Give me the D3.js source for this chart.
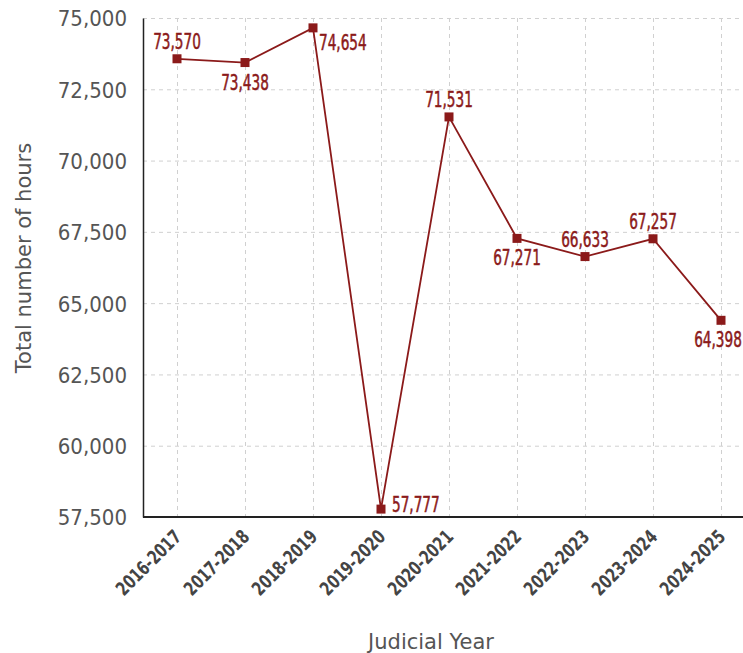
<!DOCTYPE html>
<html>
<head>
<meta charset="utf-8">
<script src="https://cdn.jsdelivr.net/npm/d3@7"></script>
<style>
  html, body { margin: 0; padding: 0; background: #fff; }
  svg { display: block; }
</style>
</head>
<body>
<svg id="chart" width="743" height="653"></svg>
<script>
// Judicial years and total hours per year
const years = ["2016-2017", "2017-2018", "2018-2019", "2019-2020", "2020-2021",
               "2021-2022", "2022-2023", "2023-2024", "2024-2025"];
const hours = [73570, 73438, 74654, 57777, 71531, 67271, 66633, 67257, 64398];
const yTicks = [57500, 60000, 62500, 65000, 67500, 70000, 72500, 75000];

// Where each value label sits relative to its marker
const labelSide = ["above", "below", "rightBelow", "right", "above", "below", "above", "above", "belowEdge"];

const W = 743, H = 653;
const m = { left: 143, top: 18, bottom: 517, right: 755 };
const red = "#8b1a1a";
const condensed = "'DejaVu Sans Condensed', 'DejaVu Sans', sans-serif";

const svg = d3.select("#chart");

const x = d3.scalePoint().domain(years).range([m.left, m.right]).padding(0.5);
const y = d3.scaleLinear().domain([57500, 75000]).range([m.bottom, m.top]);
const fmt = d3.format(",");

// Grid
const grid = svg.append("g").attr("stroke", "#d0d0d0").attr("stroke-dasharray", "4,4").attr("stroke-width", 1);
grid.selectAll("line.h").data(yTicks.filter(d => d !== 57500)).join("line")
  .attr("x1", m.left).attr("x2", W)
  .attr("y1", d => y(d) + 0.5).attr("y2", d => y(d) + 0.5);
grid.selectAll("line.v").data(years).join("line")
  .attr("x1", d => Math.round(x(d)) + 0.5).attr("x2", d => Math.round(x(d)) + 0.5)
  .attr("y1", m.top).attr("y2", m.bottom);

// Y axis
const yAxis = svg.append("g").attr("transform", `translate(${m.left},0)`)
  .call(d3.axisLeft(y).tickValues(yTicks).tickFormat(fmt).tickSize(0).tickPadding(16));
yAxis.select(".domain").attr("stroke", "#222").attr("stroke-width", 1.5);
yAxis.selectAll("text")
  .attr("font-family", condensed)
  .attr("font-size", 22).attr("fill", "#555").attr("dy", "0.36em");

// X axis
const xAxis = svg.append("g").attr("transform", `translate(0,${m.bottom})`)
  .call(d3.axisBottom(x).tickSize(0).tickPadding(0));
xAxis.select(".domain").attr("d", `M${m.left},0H${W}`).attr("stroke", "#222").attr("stroke-width", 2);
xAxis.selectAll("text")
  .attr("font-family", condensed)
  .attr("font-weight", "bold").attr("font-size", 19).attr("fill", "#444")
  .attr("text-anchor", "end").attr("dy", 0).attr("y", 0)
  .attr("textLength", 83).attr("lengthAdjust", "spacingAndGlyphs")
  .attr("transform", "translate(5,21) rotate(-45)");

// Axis titles
svg.append("text").attr("x", 431).attr("y", 649).attr("text-anchor", "middle")
  .attr("font-family", "'DejaVu Sans', sans-serif")
  .attr("font-size", 21).attr("fill", "#555").text("Judicial Year");
svg.append("text").attr("transform", "translate(31,258) rotate(-90)").attr("text-anchor", "middle")
  .attr("font-family", "'DejaVu Sans', sans-serif")
  .attr("font-size", 21).attr("fill", "#555").text("Total number of hours");

// Line
const pts = years.map((yr, i) => ({ yr, v: hours[i], side: labelSide[i] }));
svg.append("path").datum(pts)
  .attr("fill", "none").attr("stroke", red).attr("stroke-width", 1.8)
  .attr("d", d3.line().x(d => x(d.yr)).y(d => y(d.v)));

// Markers
svg.selectAll("rect.pt").data(pts).join("rect")
  .attr("x", d => x(d.yr) - 4.5).attr("y", d => y(d.v) - 4.5)
  .attr("width", 9).attr("height", 9).attr("fill", red);

// Value labels (condensed horizontally)
const offsets = {
  above:      { dx: 0, dy: -10, anchor: "middle" },
  below:      { dx: 0, dy: 27,  anchor: "middle" },
  belowEdge:  { dx: -3, dy: 27, anchor: "middle" },
  rightBelow: { dx: 6, dy: 22,  anchor: "start" },
  right:      { dx: 11, dy: 3,  anchor: "start" }
};
svg.selectAll("text.val").data(pts).join("text")
  .attr("class", "val")
  .attr("font-family", condensed)
  .attr("font-size", 20.5).attr("fill", red)
  .attr("stroke", red).attr("stroke-width", 0.5)
  .attr("text-anchor", d => offsets[d.side].anchor)
  .attr("transform", d => `translate(${x(d.yr) + offsets[d.side].dx},${y(d.v) + offsets[d.side].dy}) scale(0.74,1)`)
  .text(d => fmt(d.v));
</script>
</body>
</html>
